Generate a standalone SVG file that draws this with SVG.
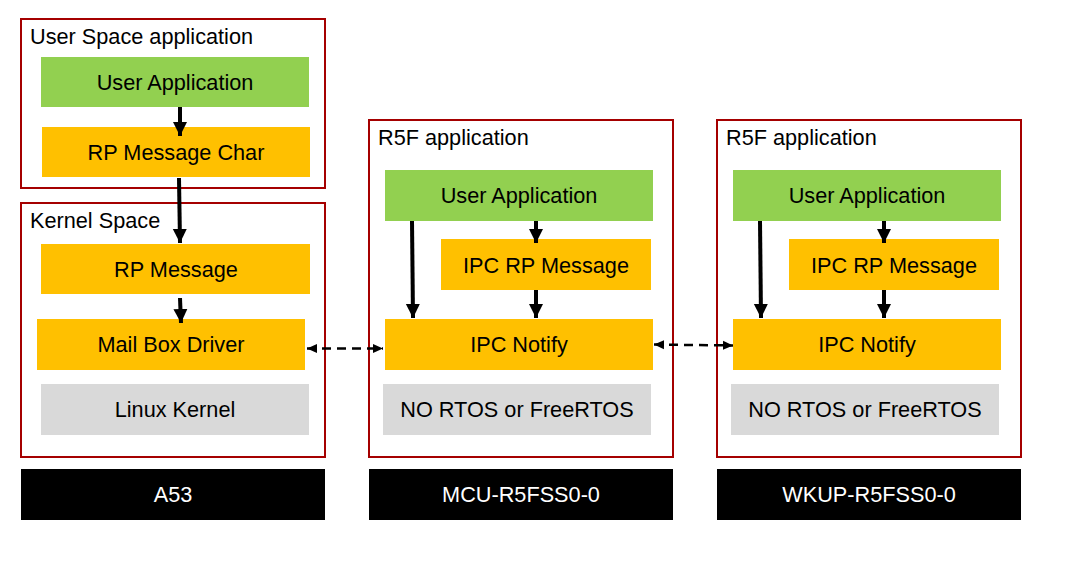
<svg xmlns="http://www.w3.org/2000/svg" width="1087" height="565" viewBox="0 0 1087 565">
<defs>
<style>
.frame{fill:#fff;stroke:#a50000;stroke-width:2}
.green{fill:#92d050}
.orange{fill:#ffc000}
.gray{fill:#d9d9d9}
.bar{fill:#000}
text{font-family:"Liberation Sans",Arial,sans-serif;font-size:21.7px;fill:#000}
.c{text-anchor:middle}
.w{fill:#fff}
.solid{stroke:#000;stroke-width:4;fill:none}
.dash{stroke:#000;stroke-width:2.5;fill:none;stroke-dasharray:9 6}
</style>
<marker id="ah" markerUnits="userSpaceOnUse" markerWidth="16" markerHeight="16" refX="14" refY="8" orient="auto">
<path d="M0,1 L14,8 L0,15 Z" fill="#000"/>
</marker>
<marker id="sh" markerUnits="userSpaceOnUse" markerWidth="12" markerHeight="12" refX="10" refY="6" orient="auto-start-reverse">
<path d="M0,1.5 L10,6 L0,10.5 Z" fill="#000"/>
</marker>
</defs>
<rect width="1087" height="565" fill="#fff"/>

<g id="user-space">
<rect class="frame" x="21" y="19" width="304" height="169"/>
<text x="30" y="44">User Space application</text>
</g>
<g id="kernel-space">
<rect class="frame" x="21" y="203" width="304" height="254"/>
<text x="30" y="228">Kernel Space</text>
</g>
<g id="r5f-mcu">
<rect class="frame" x="369" y="120" width="304" height="337"/>
<text x="378" y="145">R5F application</text>
</g>
<g id="r5f-wkup">
<rect class="frame" x="717" y="120" width="304" height="337"/>
<text x="726" y="145">R5F application</text>
</g>

<g id="a53-user-app"><rect class="green" x="41" y="57" width="268" height="50"/><text class="c" x="175" y="90">User Application</text></g>
<g id="rp-message-char"><rect class="orange" x="42" y="127" width="268" height="50"/><text class="c" x="176" y="160">RP Message Char</text></g>
<g id="rp-message"><rect class="orange" x="41" y="244" width="269" height="50"/><text class="c" x="176" y="277">RP Message</text></g>
<g id="mailbox-driver"><rect class="orange" x="37" y="319" width="268" height="51"/><text class="c" x="171" y="352">Mail Box Driver</text></g>
<g id="linux-kernel"><rect class="gray" x="41" y="384" width="268" height="51"/><text class="c" x="175" y="417">Linux Kernel</text></g>

<g id="mcu-user-app"><rect class="green" x="385" y="170" width="268" height="51"/><text class="c" x="519" y="203">User Application</text></g>
<g id="mcu-ipc-rp"><rect class="orange" x="441" y="239" width="210" height="51"/><text class="c" x="546" y="273">IPC RP Message</text></g>
<g id="mcu-ipc-notify"><rect class="orange" x="385" y="319" width="268" height="51"/><text class="c" x="519" y="352">IPC Notify</text></g>
<g id="mcu-rtos"><rect class="gray" x="383" y="384" width="268" height="51"/><text class="c" x="517" y="417">NO RTOS or FreeRTOS</text></g>

<g id="wkup-user-app"><rect class="green" x="733" y="170" width="268" height="51"/><text class="c" x="867" y="203">User Application</text></g>
<g id="wkup-ipc-rp"><rect class="orange" x="789" y="239" width="210" height="51"/><text class="c" x="894" y="273">IPC RP Message</text></g>
<g id="wkup-ipc-notify"><rect class="orange" x="733" y="319" width="268" height="51"/><text class="c" x="867" y="352">IPC Notify</text></g>
<g id="wkup-rtos"><rect class="gray" x="731" y="384" width="268" height="51"/><text class="c" x="865" y="417">NO RTOS or FreeRTOS</text></g>

<g id="bar-a53"><rect class="bar" x="21" y="469" width="304" height="51"/><text class="c w" x="173" y="502">A53</text></g>
<g id="bar-mcu"><rect class="bar" x="369" y="469" width="304" height="51"/><text class="c w" x="521" y="502">MCU-R5FSS0-0</text></g>
<g id="bar-wkup"><rect class="bar" x="717" y="469" width="304" height="51"/><text class="c w" x="869" y="502">WKUP-R5FSS0-0</text></g>

<g id="connectors">
<line class="solid" x1="180" y1="107" x2="180" y2="136" marker-end="url(#ah)"/>
<line class="solid" x1="179" y1="178" x2="180" y2="243" marker-end="url(#ah)"/>
<line class="solid" x1="180" y1="298" x2="181" y2="323" marker-end="url(#ah)"/>
<line class="solid" x1="412" y1="221" x2="413" y2="318" marker-end="url(#ah)"/>
<line class="solid" x1="536" y1="221" x2="536" y2="243" marker-end="url(#ah)"/>
<line class="solid" x1="536" y1="290" x2="536" y2="318" marker-end="url(#ah)"/>
<line class="solid" x1="760" y1="221" x2="761" y2="318" marker-end="url(#ah)"/>
<line class="solid" x1="884" y1="221" x2="884" y2="243" marker-end="url(#ah)"/>
<line class="solid" x1="884" y1="290" x2="884" y2="318" marker-end="url(#ah)"/>
<line class="dash" x1="307" y1="348.5" x2="383" y2="348.5" marker-start="url(#sh)" marker-end="url(#sh)"/>
<line class="dash" x1="654" y1="344.5" x2="733" y2="345.5" marker-start="url(#sh)" marker-end="url(#sh)"/>
</g>
</svg>
